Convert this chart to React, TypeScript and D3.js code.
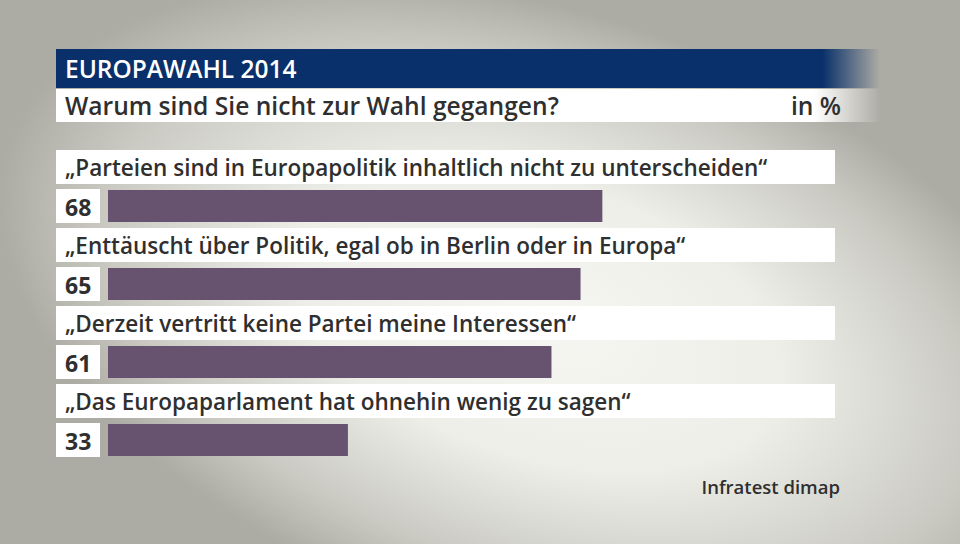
import React from "react";
import * as d3 from "d3";

const categories = [
  "„Parteien sind in Europapolitik inhaltlich nicht zu unterscheiden“",
  "„Enttäuscht über Politik, egal ob in Berlin oder in Europa“",
  "„Derzeit vertritt keine Partei meine Interessen“",
  "„Das Europaparlament hat ohnehin wenig zu sagen“",
];
const values = [68, 65, 61, 33];
const title = "EUROPAWAHL 2014";
const subtitle = "Warum sind Sie nicht zur Wahl gegangen?";
const unit = "in %";
const source = "Infratest dimap";

const W = 960;
const H = 544;
const FONT = "'Open Sans', 'DejaVu Sans', sans-serif";

export default function App() {
  const x = d3.scaleLinear().domain([0, 100]).range([108, 835]);
  const y = d3
    .scaleBand<number>()
    .domain(d3.range(categories.length))
    .range([150, 462])
    .paddingInner(0)
    .paddingOuter(0);
  return (
    <svg
      width={W}
      height={H}
      style={{ position: "absolute", left: 0, top: 0 }}
      fontFamily={FONT}
    >
      <defs>
        <radialGradient
          id="bg"
          cx="540"
          cy="320"
          r="560"
          gradientUnits="userSpaceOnUse"
          gradientTransform="translate(540 320) rotate(18) scale(1 0.55) translate(-540 -320)"
        >
          <stop offset="0" stopColor="#f6f6f2" />
          <stop offset="0.45" stopColor="#eeeee9" />
          <stop offset="0.8" stopColor="#cacac3" />
          <stop offset="1" stopColor="#adaca4" />
        </radialGradient>
        <linearGradient id="titleFade" x1="56" x2="880" y1="0" y2="0" gradientUnits="userSpaceOnUse">
          <stop offset="0" stopColor="#09306a" stopOpacity="1" />
          <stop offset="0.93" stopColor="#09306a" stopOpacity="1" />
          <stop offset="1" stopColor="#09306a" stopOpacity="0" />
        </linearGradient>
        <linearGradient id="subFade" x1="56" x2="880" y1="0" y2="0" gradientUnits="userSpaceOnUse">
          <stop offset="0" stopColor="#ffffff" stopOpacity="1" />
          <stop offset="0.92" stopColor="#ffffff" stopOpacity="1" />
          <stop offset="1" stopColor="#ffffff" stopOpacity="0" />
        </linearGradient>
      </defs>
      <rect x={0} y={0} width={W} height={H} fill="url(#bg)" />
      <rect x={56} y={49} width={824} height={39} fill="url(#titleFade)" />
      <text x={65} y={78} fill="#ffffff" fontSize={24.5} fontWeight={600}>
        {title}
      </text>
      <rect x={56} y={89} width={824} height={33} fill="url(#subFade)" />
      <text x={65} y={115} fill="#2f2f2f" fontSize={24.6} fontWeight={600}>
        {subtitle}
      </text>
      <text x={841} y={115} fill="#2f2f2f" fontSize={24.6} fontWeight={600} textAnchor="end">
        {unit}
      </text>
      {categories.map((c, i) => {
        const y0 = y(i) as number;
        return (
          <g key={c}>
            <rect x={56} y={y0} width={779} height={34} fill="#ffffff" />
            <text x={65} y={y0 + 26} fill="#2f2f2f" fontSize={22.5} fontWeight={600}>
              {c}
            </text>
            <rect x={56} y={y0 + 39} width={44} height={34} fill="#ffffff" />
            <text x={65} y={y0 + 66} fill="#2f2f2f" fontSize={23} fontWeight={700}>
              {values[i]}
            </text>
            <rect
              x={x(0)}
              y={y0 + 40}
              width={x(values[i]) - x(0)}
              height={32}
              fill="#67536f"
            />
          </g>
        );
      })}
      <text x={840} y={494} fill="#2f2f2f" fontSize={18.5} fontWeight={600} textAnchor="end">
        {source}
      </text>
    </svg>
  );
}
